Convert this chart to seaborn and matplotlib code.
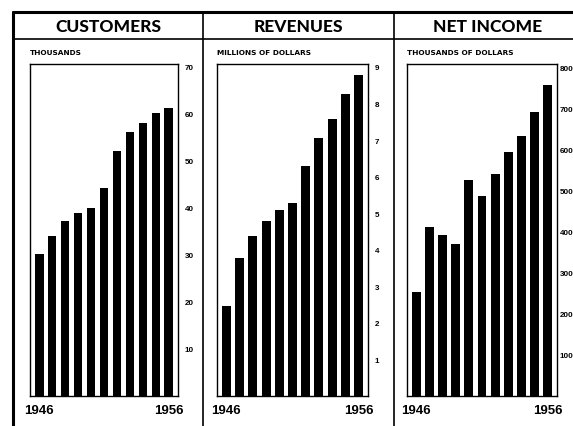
import matplotlib
matplotlib.use('Agg')
import matplotlib.pyplot as plt
import seaborn as sns
import pandas as pd

years = [str(y) for y in range(1946, 1957)]
customers = [30.1, 33.9, 37.1, 38.8, 40.0, 44.1, 52.1, 56.0, 57.9, 60.0, 61.2]
revenues = [2.46, 3.77, 4.37, 4.78, 5.09, 5.28, 6.28, 7.06, 7.58, 8.26, 8.78]
net_income = [253, 411, 392, 371, 526, 486, 540, 593, 633, 692, 757]

titles = ['CUSTOMERS', 'REVENUES', 'NET INCOME']
units = ['THOUSANDS', 'MILLIONS OF DOLLARS', 'THOUSANDS OF DOLLARS']
yticks = [[10, 20, 30, 40, 50, 60, 70],
          [1, 2, 3, 4, 5, 6, 7, 8, 9],
          [100, 200, 300, 400, 500, 600, 700, 800]]
ytops = [70.5, 9.08, 808]

sns.set_style('white')
plt.rcParams['font.family'] = ['DejaVu Sans']
plt.rcParams['text.color'] = 'black'
plt.rcParams['xtick.color'] = 'black'
plt.rcParams['ytick.color'] = 'black'
narrow = ['Liberation Sans Narrow', 'Liberation Sans', 'DejaVu Sans']

W, H = 573, 427
fig = plt.figure(figsize=(W / 100, H / 100), dpi=100)

# background layer for the ruled frame of the newspaper table
bg = fig.add_axes([0, 0, 1, 1])
bg.set_xlim(0, W)
bg.set_ylim(H, 0)
bg.axis('off')
bg.plot([13, 600], [13, 13], color='black', lw=2.2)
bg.plot([13, 600], [40, 40], color='black', lw=1.2)
bg.plot([13, 13], [13, H], color='black', lw=2.2)
bg.plot([203, 203], [13, H], color='black', lw=1.2)
bg.plot([394, 394], [13, H], color='black', lw=1.2)

frames = [(30, 178), (217, 368), (407, 557)]
centers = [108, 298.5, 488]
pads = [5, 5, 2]
top, bottom = 65, 397

for i, values in enumerate([customers, revenues, net_income]):
    x0, x1 = frames[i]
    ax = fig.add_axes([x0 / W, 1 - bottom / H, (x1 - x0) / W, (bottom - top) / H])
    df = pd.DataFrame({'year': years, 'value': values})
    sns.barplot(data=df, x='year', y='value', color='black', saturation=1,
                width=0.68, edgecolor='none', ax=ax)
    ax.set_xlim(-0.7, 10.7)
    ax.set_ylim(0, ytops[i])
    ax.set_xlabel('')
    ax.set_ylabel('')
    for s in ax.spines.values():
        s.set_color('black')
        s.set_linewidth(1.0)
    ax.yaxis.tick_right()
    ax.set_yticks(yticks[i])
    ax.set_yticklabels([str(t) for t in yticks[i]], fontsize=5.8,
                       fontweight='bold', family=narrow)
    ax.tick_params(axis='y', length=0, pad=pads[i], labelcolor='black')
    ax.set_xticks([0, 10])
    ax.set_xticklabels([years[0], years[-1]], fontsize=9.5, fontweight='bold',
                       family=narrow)
    ax.tick_params(axis='x', length=0, pad=6, labelcolor='black')
    ax.grid(False)

    fig.text(centers[i] / W, 1 - 27 / H, titles[i], ha='center', va='center',
             fontsize=12.5, fontweight='black', color='black',
             family=['Lato', 'DejaVu Sans'])
    fig.text(x0 / W, 1 - 53 / H, units[i], ha='left', va='center',
             fontsize=5.3, fontweight='bold', color='black')

fig.savefig('out.png', dpi=100)
